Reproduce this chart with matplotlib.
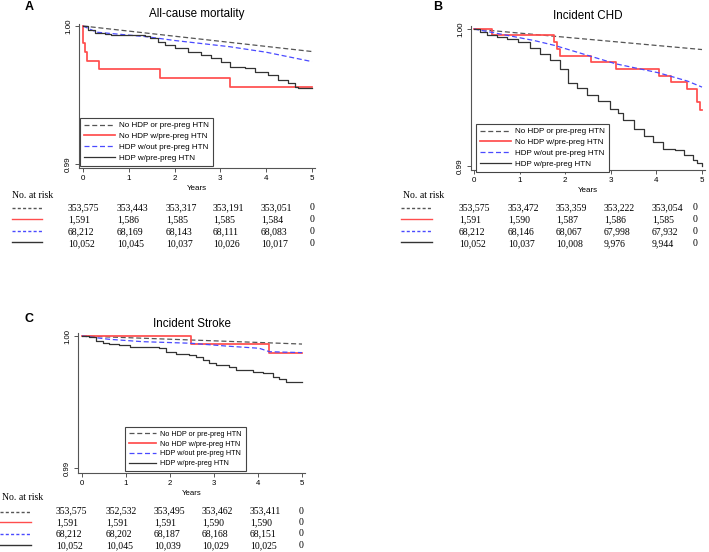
import matplotlib
matplotlib.use("Agg")
import matplotlib.pyplot as plt
from matplotlib.lines import Line2D

W, H = 709, 552
fig = plt.figure(figsize=(W / 100, H / 100), dpi=100)

SANS = ['Liberation Sans', 'DejaVu Sans']
SERIF = ['Liberation Serif', 'DejaVu Serif']

series_labels = ["No HDP or pre-preg HTN", "No HDP w/pre-preg HTN",
                 "HDP w/out pre-preg HTN", "HDP w/pre-preg HTN"]
year_ticks = [0, 1, 2, 3, 4, 5]
y_ticks = [0.99, 1.00]
y_ticklabels = ["0.99", "1.00"]

# ---------------- Panel A : All-cause mortality ----------------
a_none_t = [0, 5]
a_none_s = [1.0, 0.99815]
a_prehtn_t = [0, 0.005, 0.04, 0.08, 0.36, 1.69, 3.20, 5.0]
a_prehtn_s = [1.0, 0.99874, 0.99811, 0.99749, 0.99686, 0.99623, 0.99560, 0.99560]
a_hdp_t = [0, 0.3, 1.4, 2.0, 3.2, 4.0, 5.0]
a_hdp_s = [1.0, 0.99955, 0.99922, 0.99895, 0.9985, 0.9981, 0.99742]
a_both_t = [0, 0.11, 0.255, 0.47, 0.62, 1.35, 1.46, 1.64, 1.78, 2.0, 2.29, 2.58,
            2.80, 3.02, 3.20, 3.53, 3.75, 4.04, 4.26, 4.48, 4.62, 4.69, 5.0]
a_both_s = [1.0, 0.99971, 0.99952, 0.99942, 0.99935, 0.9993, 0.99911, 0.99886,
            0.99862, 0.99838, 0.99814, 0.9979, 0.99766, 0.99741, 0.99705, 0.99693,
            0.99669, 0.99645, 0.99609, 0.99585, 0.9956, 0.99548, 0.99548]
a_risk = [
    ["353,575", "353,443", "353,317", "353,191", "353,051", "0"],
    ["1,591", "1,586", "1,585", "1,585", "1,584", "0"],
    ["68,212", "68,169", "68,143", "68,111", "68,083", "0"],
    ["10,052", "10,045", "10,037", "10,026", "10,017", "0"],
]

# ---------------- Panel B : Incident CHD ----------------
b_none_t = [0, 5]
b_none_s = [1.0, 0.9985]
b_prehtn_t = [0, 0.39, 1.76, 1.81, 1.88, 2.57, 3.12, 4.05, 4.31, 4.68, 4.88, 4.95, 5.0]
b_prehtn_s = [1.0, 0.99957, 0.99903, 0.99854, 0.99805, 0.99757, 0.99708, 0.99657,
              0.9961, 0.9956, 0.9947, 0.99412, 0.99412]
b_hdp_t = [0, 0.38, 0.6, 1.33, 1.77, 2.57, 3.12, 4.05, 4.68, 5.0]
b_hdp_s = [1.0, 0.99976, 0.99962, 0.99915, 0.9988, 0.998, 0.99745, 0.9968, 0.9962, 0.99576]
b_both_t = [0, 0.13, 0.28, 0.5, 0.72, 0.96, 1.23, 1.45, 1.67, 1.89, 2.07, 2.25, 2.47,
            2.72, 2.98, 3.16, 3.27, 3.5, 3.72, 3.93, 4.15, 4.4, 4.6, 4.81, 4.9, 5.0]
b_both_s = [1.0, 0.9998, 0.99956, 0.99939, 0.99925, 0.99905, 0.99862, 0.99815, 0.99772,
            0.99705, 0.99607, 0.99567, 0.99518, 0.99475, 0.99415, 0.99385, 0.99336,
            0.9927, 0.9922, 0.99178, 0.99125, 0.99115, 0.9908, 0.99044, 0.9902, 0.99002]
b_risk = [
    ["353,575", "353,472", "353,359", "353,222", "353,054", "0"],
    ["1,591", "1,590", "1,587", "1,586", "1,585", "0"],
    ["68,212", "68,146", "68,067", "67,998", "67,932", "0"],
    ["10,052", "10,037", "10,008", "9,976", "9,944", "0"],
]

# ---------------- Panel C : Incident Stroke ----------------
c_none_t = [0, 5]
c_none_s = [1.0, 0.99939]
c_prehtn_t = [0, 2.48, 4.26, 5.0]
c_prehtn_s = [1.0, 0.99937, 0.99874, 0.99874]
c_hdp_t = [0, 0.62, 1.38, 2.48, 3.27, 4.03, 4.26, 5.0]
c_hdp_s = [1.0, 0.99975, 0.99957, 0.99945, 0.99924, 0.99907, 0.99881, 0.99874]
c_both_t = [0, 0.17, 0.32, 0.47, 0.62, 0.85, 1.08, 1.76, 1.91, 2.14, 2.44, 2.59, 2.74,
            2.89, 3.05, 3.35, 3.5, 3.88, 4.11, 4.33, 4.48, 4.64, 5.0]
c_both_s = [1.0, 0.9999, 0.99965, 0.99949, 0.99939, 0.99932, 0.99914, 0.99907, 0.99881,
            0.99864, 0.99856, 0.99843, 0.99818, 0.99793, 0.9978, 0.99768, 0.99742,
            0.9973, 0.99722, 0.99692, 0.99672, 0.99654, 0.99649]
c_risk = [
    ["353,575", "352,532", "353,495", "353,462", "353,411", "0"],
    ["1,591", "1,591", "1,591", "1,590", "1,590", "0"],
    ["68,212", "68,202", "68,187", "68,168", "68,151", "0"],
    ["10,052", "10,045", "10,039", "10,029", "10,025", "0"],
]

# ---------------- styles ----------------
DASH = (0, (4.0, 2.2))
STY = [
    dict(color='#555555', ls=DASH, lw=0.9, step=False),
    dict(color='#ff4d4d', ls='-', lw=1.25, step=True),
    dict(color='#4a4aff', ls=DASH, lw=0.9, step=False),
    dict(color='#333333', ls='-', lw=0.9, step=True),
]
AXC = '#555555'


def fx(px):
    return px / W


def fy(py):
    return 1 - py / H


def make_panel(spine, x0, x5, right, y100, y099, bot, top, series, title,
               title_y, letter, letter_xy, leg_box, leg_fs, tick_fs):
    ppy = (x5 - x0) / 5.0
    ppv = (y099 - y100) / 0.01
    ax = fig.add_axes([fx(spine), fy(bot), (right - spine) / W, (bot - top) / H])
    ax.set_xlim((spine - x0) / ppy, (right - x0) / ppy)
    ax.set_ylim(0.99 - (bot - y099) / ppv, 1.0 + (y100 - top) / ppv)
    for (t, s), st, lab in zip(series, STY, series_labels):
        if st['step']:
            ax.step(t, s, where='post', color=st['color'], ls=st['ls'], lw=st['lw'], label=lab)
        else:
            ax.plot(t, s, color=st['color'], ls=st['ls'], lw=st['lw'], label=lab)
    for sp in ('top', 'right'):
        ax.spines[sp].set_visible(False)
    for sp in ('left', 'bottom'):
        ax.spines[sp].set_color(AXC)
        ax.spines[sp].set_linewidth(0.8)
    ax.set_xticks(year_ticks)
    ax.set_xticklabels([str(v) for v in year_ticks], fontsize=tick_fs, family=SANS)
    ax.set_yticks(y_ticks)
    ax.set_yticklabels(y_ticklabels, fontsize=tick_fs, family=SANS, rotation=90, va='center')
    ax.tick_params(length=3, width=0.7, color=AXC, pad=2)
    ax.set_xlabel("Years", fontsize=tick_fs, family=SANS, labelpad=2.5)
    fig.text(fx((spine + right) / 2), fy(title_y), title, ha='center', va='center',
             fontsize=8.4, family=SANS)
    fig.text(fx(letter_xy[0]), fy(letter_xy[1]), letter, ha='center', va='center',
             fontsize=9, fontweight='bold', family=SANS)
    lx, lb, lw_ = leg_box
    leg = ax.legend(loc='lower left',
                    bbox_to_anchor=((lx - spine) / (right - spine), (bot - lb) / (bot - top)),
                    borderaxespad=0, frameon=True, fancybox=False,
                    edgecolor='#444444', framealpha=1, handlelength=3.8,
                    handletextpad=0.6, labelspacing=0.4, borderpad=0.5,
                    prop=dict(family=SANS, size=leg_fs))
    leg.get_frame().set_linewidth(0.8)
    return ax


def risk_table(head_xy, line_x, row_y, text_y, col_x, rows):
    fig.text(fx(head_xy[0]), fy(head_xy[1]), "No. at risk", ha='left', va='center',
             fontsize=7, family=SERIF)
    for i, st in enumerate(STY):
        fig.add_artist(Line2D([fx(line_x[0]), fx(line_x[1])], [fy(row_y[i])] * 2,
                              transform=fig.transFigure, color=st['color'],
                              ls=(0, (2.2, 1.6)) if st['ls'] != '-' else '-',
                              lw=1.0))
        for cx, val in zip(col_x, rows[i]):
            fig.text(fx(cx), fy(text_y[i]), val, ha='left', va='center',
                     fontsize=7, family=SERIF)


make_panel(79, 83, 312, 315, 26, 164, 168, 24,
           [(a_none_t, a_none_s), (a_prehtn_t, a_prehtn_s), (a_hdp_t, a_hdp_s), (a_both_t, a_both_s)],
           "All-cause mortality", 14, "A", (29, 7.5), (80, 166, 139), 5.8, 5.8)
risk_table((12, 195), (12, 42), [208, 219, 231, 242], [208, 220, 231.7, 243.3],
           [68, 117, 166, 213, 261, 310], a_risk)

make_panel(471, 474, 702, 705, 29, 166, 170, 26,
           [(b_none_t, b_none_s), (b_prehtn_t, b_prehtn_s), (b_hdp_t, b_hdp_s), (b_both_t, b_both_s)],
           "Incident CHD", 16, "B", (438, 7.5), (476, 172, 139), 5.8, 5.8)
risk_table((403, 195), (401, 432), [208, 219, 231, 241.5], [208, 220, 232, 244],
           [459, 508, 556, 604, 652, 693], b_risk)

make_panel(78, 82, 302, 305, 336, 468, 473, 333,
           [(c_none_t, c_none_s), (c_prehtn_t, c_prehtn_s), (c_hdp_t, c_hdp_s), (c_both_t, c_both_s)],
           "Incident Stroke", 324, "C", (29, 319), (125, 471, 127), 5.2, 5.6)
risk_table((2, 497), (0, 31), [511.5, 522, 533.5, 544.5], [511, 522.5, 534, 545.5],
           [56, 106, 154, 202, 250, 299], c_risk)

fig.savefig("out.png", dpi=100)
